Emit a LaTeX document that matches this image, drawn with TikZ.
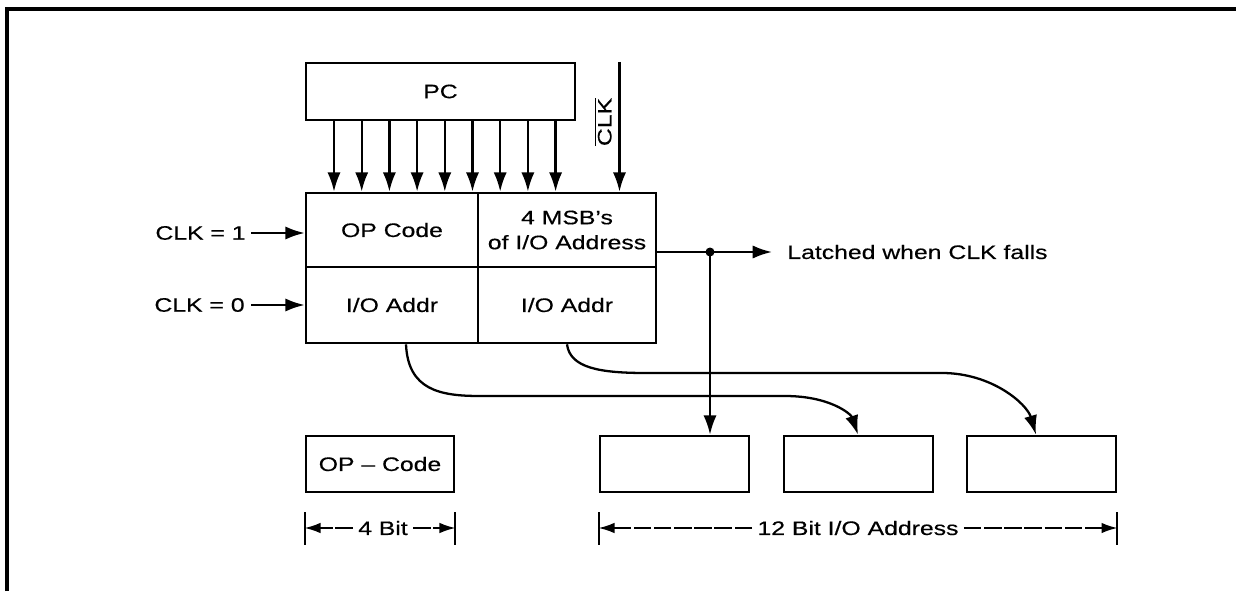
\documentclass[tikz,border=0pt]{standalone}
\usepackage{fontspec}
\setmainfont[FakeStretch=1.27,FakeBold=0.4]{Liberation Sans}
\usetikzlibrary{arrows.meta}
\begin{document}
\begin{tikzpicture}[x=0.02cm,y=-0.02cm,
  every node/.style={font=\fontsize{11.1}{14.2}\selectfont},
  box/.style={draw,line width=1.5pt,rectangle,inner sep=0pt},
  arr/.style={-{Latex[length=11pt,width=7.5pt]},line width=1.3pt},
  dim/.style={-{Latex[length=9pt,width=6pt]},line width=0.9pt,dash pattern=on 10pt off 1.5pt},
  tick/.style={line width=1.2pt},
  lbl/.style={inner sep=0pt}]
\useasboundingbox (0,0) rectangle (1236,591);
% frame
\draw[line width=2.2pt] (7,591) -- (7,9) -- (1236,9);
% PC
\node[box,minimum width=5.38cm,minimum height=1.14cm] (pc) at (440.5,91.5) {PC};
% register cells
\node[box,minimum width=3.44cm,minimum height=1.48cm] (op) at (392,230) {OP Code};
\node[box,minimum width=3.56cm,minimum height=1.48cm,align=center] (msb) at (567,230) {4 MSB’s\\of I/O Address};
\node[box,minimum width=3.44cm,minimum height=1.52cm] (ioa) at (392,305) {I/O Addr};
\node[box,minimum width=3.56cm,minimum height=1.52cm] (iob) at (567,305) {I/O Addr};
% PC arrows
\foreach \i in {0,...,8}{
  \coordinate (x\i) at ({334+27.7*\i},0);
  \draw[arr] (pc.south -| x\i) -- (op.north -| x\i);
}
% CLK bar
\coordinate (clktop) at (619.5,62);
\draw[arr] (clktop) -- (msb.north -| clktop);
\node[lbl,rotate=90] (clkbar) at (603,122) {$\overline{\mbox{CLK}}$};
% CLK = 1 / 0
\node[lbl,anchor=east] (c1) at (246,233) {CLK = 1};
\node[lbl,anchor=east] (c0) at (245,305) {CLK = 0};
\draw[arr] ([xshift=0.1cm]c1.east) -- (c1.east -| op.west);
\draw[arr] ([xshift=0.12cm]c0.east) -- (c0.east -| ioa.west);
% latched
\coordinate (j) at (710,252);
\node[lbl,anchor=west] (lat) at (787,252) {Latched when CLK falls};
\draw[arr] (msb.east |- j) -- ([xshift=-0.3cm]lat.west);
\fill (j) circle[radius=0.09cm];
% bottom boxes
\node[box,minimum width=2.96cm,minimum height=1.12cm] (opc) at (380,464) {OP – Code};
\node[box,minimum width=2.98cm,minimum height=1.12cm] (b1) at (674.5,464) {};
\node[box,minimum width=2.98cm,minimum height=1.12cm] (b2) at (858.5,464) {};
\node[box,minimum width=2.98cm,minimum height=1.12cm] (b3) at (1041.5,464) {};
\draw[arr] (j) -- (b1.north -| j);
% curves
\coordinate (s1) at (406,0);
\coordinate (e1) at (858,0);
\coordinate (s2) at (567,0);
\coordinate (e2) at (1036,0);
\draw[arr] (ioa.south -| s1) .. controls (408,390) and (440,396) .. (480,396)
  -- (785,396) .. controls (830,396) and (851,414) .. (b2.north -| e1);
\draw[arr] (iob.south -| s2) .. controls (570,368) and (600,373) .. (646,373)
  -- (942,373) .. controls (992,373) and (1027,404) .. (b3.north -| e2);
% dimension lines
\coordinate (yd) at (0,528);
\coordinate (dL) at (opc.west |- yd);
\coordinate (dR) at (opc.east |- yd);
\coordinate (eL) at (b1.west |- yd);
\coordinate (eR) at (b3.east |- yd);
\foreach \p in {dL,dR,eL,eR}
  \draw[tick] ([yshift=0.32cm]\p) -- ([yshift=-0.34cm]\p);
\node[inner sep=0.1cm] (fb) at (383,528) {4 Bit};
\node[inner sep=0.1cm] (tb) at (858,528) {12 Bit I/O Address};
\draw[dim] (fb.west) -- (dL);
\draw[dim] (fb.east) -- (dR);
\draw[dim] (tb.west) -- (eL);
\draw[dim] (tb.east) -- (eR);
\end{tikzpicture}
\end{document}
